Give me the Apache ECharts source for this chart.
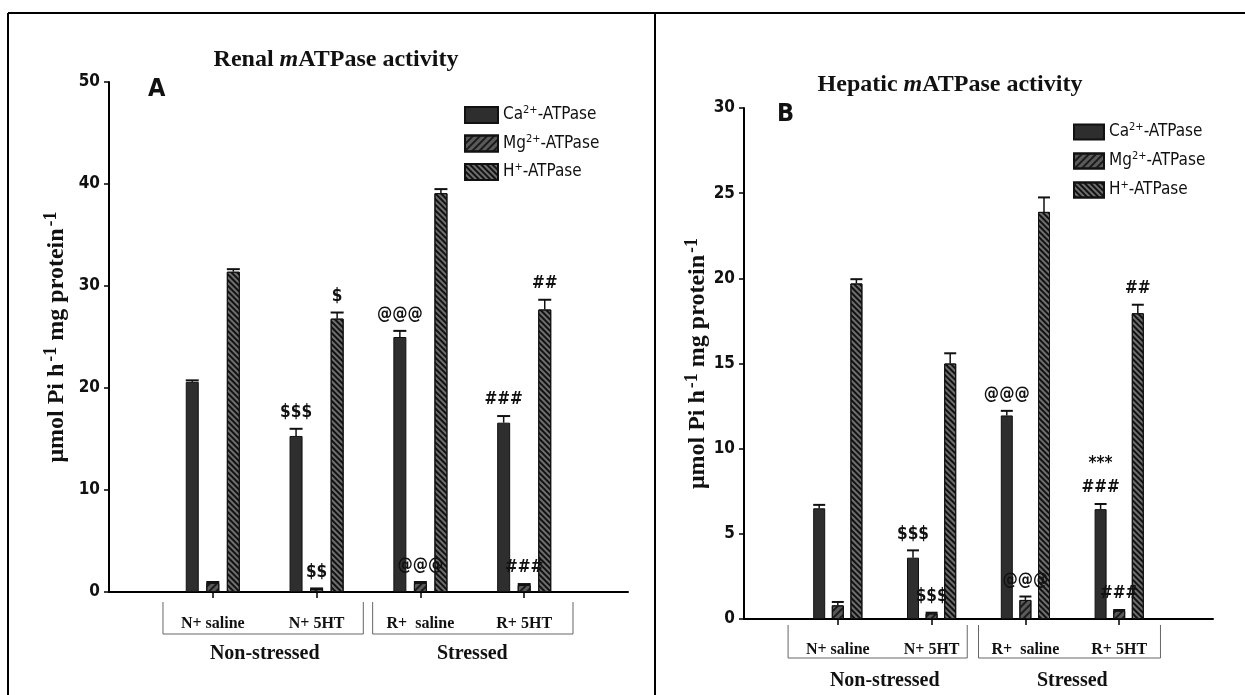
<!DOCTYPE html>
<html>
<head>
<meta charset="utf-8">
<script src="https://cdn.jsdelivr.net/npm/echarts@6/dist/echarts.min.js"></script>
<style>
  html, body { margin: 0; padding: 0; background: #fff; }
  #chart { width: 1245px; height: 695px; }
</style>
</head>
<body>
<div id="chart"></div>
<script>
// categories
const groups = ['N+ saline', 'N+ 5HT', 'R+  saline', 'R+ 5HT'];
const conditions = ['Non-stressed', 'Stressed'];
const enzymes = ['Ca2+-ATPase', 'Mg2+-ATPase', 'H+-ATPase'];
const groupPos = [1, 2, 3, 4];
const conditionPos = [1.5, 3.5];

// renal (panel A)
const renalCa = [20.6, 15.3, 25.0, 16.6];
const renalCaErr = [0.15, 0.7, 0.6, 0.65];
const renalMg = [0.9, 0.3, 0.9, 0.7];
const renalMgErr = [0.08, 0.05, 0.08, 0.08];
const renalH = [31.4, 26.8, 39.1, 27.7];
const renalHErr = [0.25, 0.6, 0.4, 0.95];
const renalCaSig = ['', '$$$', '@@@', '###'];
const renalMgSig = ['', '$$', '@@@', '###'];
const renalHSig = ['', '$', '', '##'];

// hepatic (panel B)
const hepCa = [6.5, 3.6, 11.95, 6.45];
const hepCaErr = [0.2, 0.43, 0.27, 0.3];
const hepMg = [0.8, 0.33, 1.12, 0.49];
const hepMgErr = [0.2, 0.04, 0.2, 0.04];
const hepH = [19.7, 15.0, 23.9, 17.95];
const hepHErr = [0.25, 0.6, 0.85, 0.5];
const hepCaSig = ['', '$$$', '@@@', '***\n###'];
const hepMgSig = ['', '$$$', '@@@', '###'];
const hepHSig = ['', '', '', '##'];

const narrow = "'Liberation Sans Narrow', 'Arial Narrow', 'DejaVu Sans Condensed', sans-serif";
const serif = "'Liberation Serif', 'Times New Roman', serif";

const solidStyle = { color: '#2e2e2e', borderColor: '#111', borderWidth: 1 };
const mgStyle = {
  color: '#5a5a5a', borderColor: '#111', borderWidth: 1,
  decal: { symbol: 'rect', symbolSize: 1, dashArrayX: [1, 0], dashArrayY: [2, 2.5], rotation: -Math.PI / 4, color: '#1a1a1a' }
};
const hStyle = {
  color: '#6e6e6e', borderColor: '#111', borderWidth: 1,
  decal: { symbol: 'rect', symbolSize: 1, dashArrayX: [1, 0], dashArrayY: [2, 2], rotation: Math.PI / 4, color: '#111' }
};
const styles = [solidStyle, mgStyle, hStyle];

const panels = [
  { grid: { left: 109, top: 82, width: 519, height: 510 }, max: 50, interval: 10,
    barWidth: 13, barGap: 0.58, nameGap: 38, labelMargin: 24, condMargin: 52,
    values: [renalCa, renalMg, renalH], errs: [renalCaErr, renalMgErr, renalHErr],
    sigs: [renalCaSig, renalMgSig, renalHSig],
    brackets: [[0.52, 2.45], [2.54, 4.47]], bracketTop: 10, bracketBottom: 42 },
  { grid: { left: 744, top: 108, width: 469, height: 511 }, max: 30, interval: 5,
    barWidth: 12, barGap: 0.55, nameGap: 21, labelMargin: 23, condMargin: 52,
    values: [hepCa, hepMg, hepH], errs: [hepCaErr, hepMgErr, hepHErr],
    sigs: [hepCaSig, hepMgSig, hepHSig],
    brackets: [[0.47, 2.38], [2.5, 4.44]], bracketTop: 6, bracketBottom: 39 }
];

function legendLabel(name) {
  if (name === 'Ca2+-ATPase') return '{t|Ca}{s|2+}{t|-ATPase}';
  if (name === 'Mg2+-ATPase') return '{t|Mg}{s|2+}{t|-ATPase}';
  return '{t|H}{s|+}{t|-ATPase}';
}

const grids = [], xAxes = [], yAxes = [], series = [];
panels.forEach((p, pi) => {
  grids.push(p.grid);
  xAxes.push({
    type: 'value', gridIndex: pi, min: 0, max: 5,
    axisLine: { show: true, lineStyle: { color: '#000', width: 2 } },
    axisTick: { show: true, inside: false, length: 6, customValues: groupPos, lineStyle: { color: '#000', width: 1.5 } },
    axisLabel: { customValues: groupPos, margin: p.labelMargin, formatter: v => groups[Math.round(v) - 1] || '',
      fontFamily: serif, fontWeight: 'bold', fontSize: 16, color: '#111' },
    splitLine: { show: false }
  });
  xAxes.push({
    type: 'value', gridIndex: pi, min: 0, max: 5, position: 'bottom',
    axisLine: { show: false }, axisTick: { show: false }, splitLine: { show: false },
    axisLabel: { customValues: conditionPos, margin: p.condMargin,
      formatter: v => conditions[v < 2.5 ? 0 : 1], fontFamily: serif, fontWeight: 'bold', fontSize: 20, color: '#111' }
  });
  yAxes.push({
    type: 'value', gridIndex: pi, min: 0, max: p.max, interval: p.interval,
    name: '{t|μmol Pi h}{s|-1}{t| mg protein}{s|-1}',
    nameLocation: 'middle', nameRotate: 90, nameGap: p.nameGap,
    nameTextStyle: { rich: {
      t: { fontFamily: serif, fontWeight: 'bold', fontSize: 24, color: '#111' },
      s: { fontFamily: serif, fontWeight: 'bold', fontSize: 18, color: '#111', padding: [0, 0, 11, 2] }
    } },
    axisLine: { show: true, lineStyle: { color: '#000', width: 2 } },
    axisTick: { show: true, inside: false, length: 5, lineStyle: { color: '#000', width: 1.5 } },
    axisLabel: { fontFamily: narrow, fontWeight: 'bold', fontSize: 17, color: '#111', margin: 9 },
    splitLine: { show: false }
  });
  const step = p.barWidth * (1 + p.barGap);
  enzymes.forEach((name, k) => {
    series.push({
      name, type: 'bar', xAxisIndex: pi * 2, yAxisIndex: pi,
      barWidth: p.barWidth, barGap: (p.barGap * 100) + '%',
      itemStyle: styles[k],
      data: p.values[k].map((v, i) => [groupPos[i], v])
    });
  });
  enzymes.forEach((name, k) => {
    const sig = p.sigs[k];
    const offset = (k - 1) * step;
    series.push({
      type: 'custom', xAxisIndex: pi * 2, yAxisIndex: pi, z: 5, silent: true,
      data: p.values[k].map((v, i) => [groupPos[i], v, p.errs[k][i]]),
      renderItem(params, api) {
        const x = api.value(0), v = api.value(1), e = api.value(2);
        const base = api.coord([x, v]);
        const top = api.coord([x, v + e]);
        const cx = base[0] + offset;
        const half = p.barWidth / 2;
        return {
          type: 'group',
          children: [
            { type: 'line', shape: { x1: cx, y1: base[1], x2: cx, y2: top[1] }, style: { stroke: '#111', lineWidth: 1.5 } },
            { type: 'line', shape: { x1: cx - half, y1: top[1], x2: cx + half, y2: top[1] }, style: { stroke: '#111', lineWidth: 2 } },
            { type: 'text', style: { text: sig[params.dataIndex], x: cx, y: top[1] - 4, align: 'center',
              verticalAlign: 'bottom', fontFamily: narrow, fontWeight: 'bold', fontSize: 17, lineHeight: 24, fill: '#111' } }
          ]
        };
      }
    });
  });
});

const legendRich = {
  t: { fontFamily: narrow, fontSize: 17, color: '#111' },
  s: { fontFamily: narrow, fontSize: 11, color: '#111', padding: [0, 0, 9, 0] }
};

const option = {
  backgroundColor: '#fff',
  animation: false,
  title: [
    { text: '{b|Renal }{i|m}{b|ATPase activity}', left: 331, top: 43, textAlign: 'center',
      textStyle: { rich: { b: { fontFamily: serif, fontWeight: 'bold', fontSize: 24, color: '#111' },
        i: { fontFamily: serif, fontWeight: 'bold', fontStyle: 'italic', fontSize: 24, color: '#111' } } } },
    { text: '{b|Hepatic }{i|m}{b|ATPase activity}', left: 945, top: 68, textAlign: 'center',
      textStyle: { rich: { b: { fontFamily: serif, fontWeight: 'bold', fontSize: 24, color: '#111' },
        i: { fontFamily: serif, fontWeight: 'bold', fontStyle: 'italic', fontSize: 24, color: '#111' } } } },
    { text: 'A', left: 143, top: 72, textStyle: { fontFamily: narrow, fontWeight: 'bold', fontSize: 25, color: '#111' } },
    { text: 'B', left: 772, top: 97, textStyle: { fontFamily: narrow, fontWeight: 'bold', fontSize: 25, color: '#111' } }
  ],
  legend: [
    { data: enzymes, orient: 'vertical', left: 459, top: 100, itemWidth: 33, itemHeight: 16, itemGap: 9.5,
      icon: 'rect', formatter: legendLabel, textStyle: { rich: legendRich }, seriesIndex: [0, 1, 2] },
    { data: enzymes, orient: 'vertical', left: 1068, top: 117, itemWidth: 30, itemHeight: 15, itemGap: 10.5,
      icon: 'rect', formatter: legendLabel, textStyle: { rich: legendRich } }
  ],
  grid: grids,
  xAxis: xAxes,
  yAxis: yAxes,
  series
};

const chart = echarts.init(document.getElementById('chart'));
chart.setOption(option);

// frame and group brackets, positioned through the axes
const shapes = [
  { type: 'line', shape: { x1: 8, y1: 13, x2: 1245, y2: 13 }, style: { stroke: '#000', lineWidth: 2 } },
  { type: 'line', shape: { x1: 8, y1: 13, x2: 8, y2: 695 }, style: { stroke: '#000', lineWidth: 2 } },
  { type: 'line', shape: { x1: 655, y1: 13, x2: 655, y2: 695 }, style: { stroke: '#000', lineWidth: 2 } }
];
panels.forEach((p, pi) => {
  const y0 = chart.convertToPixel({ yAxisIndex: pi }, 0);
  p.brackets.forEach(([a, b]) => {
    const xa = chart.convertToPixel({ xAxisIndex: pi * 2 }, a);
    const xb = chart.convertToPixel({ xAxisIndex: pi * 2 }, b);
    shapes.push({ type: 'polyline', shape: { points: [[xa, y0 + p.bracketTop], [xa, y0 + p.bracketBottom],
      [xb, y0 + p.bracketBottom], [xb, y0 + p.bracketTop]] }, style: { stroke: '#666', lineWidth: 1, fill: null } });
  });
});
chart.setOption({ graphic: shapes });
</script>
</body>
</html>
